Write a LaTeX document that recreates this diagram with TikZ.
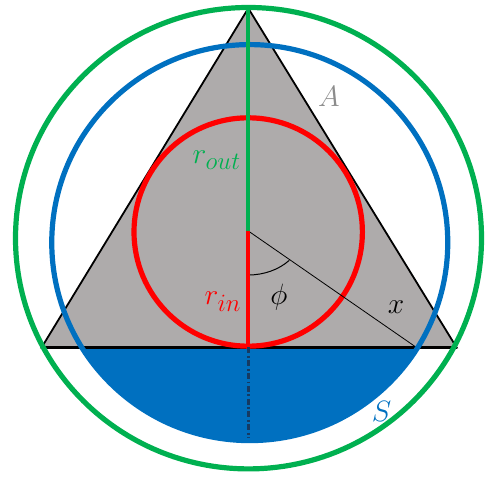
\RequirePackage{fix-cm}
\documentclass[tikz,border=0pt]{standalone}
\usetikzlibrary{calc}
\DeclareMathSizes{29.5}{29.5}{25}{18}
\definecolor{trigray}{RGB}{174,171,171}
\definecolor{cgreen}{RGB}{0,176,80}
\definecolor{cblue}{RGB}{0,112,192}
\definecolor{cred}{RGB}{255,0,0}
\definecolor{navy}{RGB}{22,58,98}
\definecolor{agray}{RGB}{140,140,140}
\begin{document}
\begin{tikzpicture}[x=1bp,y=1bp,
  lbl/.style={inner sep=0pt, font=\fontsize{29.5}{32}\selectfont},
  edge/.style={line width=1.8bp, line join=miter},
  thin/.style={line width=0.8bp},
  ring/.style={line width=5.2bp}]
\useasboundingbox (0,0) rectangle (487,477);
\coordinate (T) at (248.3,468.7);
\coordinate (L) at (41.6,129.5);
\coordinate (R) at (456.6,129.5);
\coordinate (O) at (248.3,246);
\coordinate (M) at (248.3,129.5);
\coordinate (D) at (248.3,39);
\coordinate (X) at (416.5,129.5);
\coordinate (G) at (248.5,238.8);
\coordinate (B) at (249.75,234.4);
\coordinate (C) at (248.2,245);
\coordinate (P) at ($(O)+(0,-44)$);
% triangle fill
\fill[trigray] (T) -- (L) -- (R) -- cycle;
% blue segment
\begin{scope}
  \clip (0,0) rectangle (487,129.5);
  \fill[cblue] (B) circle[radius=198];
\end{scope}
% triangle outline
\draw[edge] (T) -- (L) -- (R) -- cycle;
\draw[line width=2.5bp] (L) -- (R);
% incircle
\draw[cred, ring] (C) circle[radius=114.2];
% slanted line and angle arc
\draw[thin] (O) -- (X);
\draw[line width=1bp] (P) arc[start angle=270, end angle=318.2, x radius=55, y radius=44];
% dash-dot line
\draw[navy, line width=2.4bp, dash pattern=on 6bp off 2.5bp on 1.8bp off 2.5bp] (M) -- (D);
% circles
\draw[cblue, ring] (B) circle[radius=198];
\draw[cgreen, ring] (G) ellipse[x radius=233, y radius=230.7];
% radii
\draw[cred, line width=4bp] (O) -- (M);
\draw[cgreen, line width=3.8bp] (O) -- (T);
% labels
\node[lbl, text=agray, anchor=base] (lA) at (329,370.3) {$A$};
\node[lbl, text=cgreen, anchor=base west] (lout) at (192.5,313) {$r_{out}$};
\node[lbl, text=cred, anchor=base west] (lin) at (204.5,172) {$r_{in}$};
\node[lbl, anchor=base] (lphi) at (279,172.5) {$\phi$};
\node[lbl, anchor=base] (lx) at (396,163) {$x$};
\node[lbl, text=cblue, anchor=base] (lS) at (381.5,55) {$S$};
\end{tikzpicture}
\end{document}
